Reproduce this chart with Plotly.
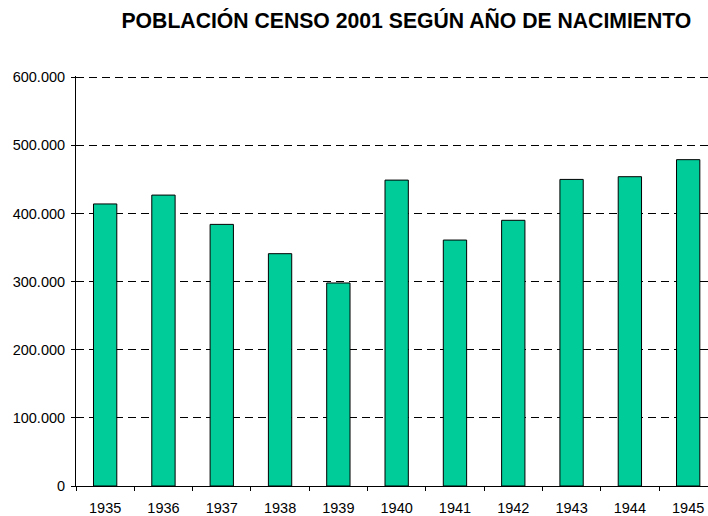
import plotly.graph_objects as go

years = ["1935", "1936", "1937", "1938", "1939", "1940", "1941", "1942", "1943", "1944", "1945"]
population = [414000, 427000, 384000, 341000, 298000, 449000, 361000, 390000, 450000, 454000, 479000]
y_ticks = [0, 100000, 200000, 300000, 400000, 500000, 600000]

fig = go.Figure()
fig.add_trace(go.Bar(
    x=years, y=population, width=0.4,
    marker=dict(color="#00CC99", line=dict(color="black", width=1)),
))

fig.update_layout(
    width=708, height=516,
    margin=dict(l=76, r=0, t=76, b=30),
    paper_bgcolor="white", plot_bgcolor="white",
    separators=",.",
    font=dict(family="Liberation Sans, Arial, sans-serif", color="black", size=14.5),
    title=dict(text="<b>POBLACIÓN CENSO 2001 SEGÚN AÑO DE NACIMIENTO</b>",
               x=0.574, xanchor="center", y=0.960, yanchor="middle",
               font=dict(size=21.2, family="Liberation Sans, Arial, sans-serif", color="black")),
    showlegend=False,
)
fig.update_xaxes(
    type="category", range=[-0.5, 10.34],
    showline=True, linecolor="black", linewidth=1,
    ticks="outside", ticklen=4, tickcolor="black", tickson="boundaries",
    showgrid=False, tickfont=dict(size=14.5), ticklabelstandoff=9,
)
fig.update_yaxes(
    range=[0, 601800], tickvals=y_ticks, tickformat=",d",
    showline=True, linecolor="black", linewidth=1,
    ticks="outside", ticklen=4, tickcolor="black",
    showgrid=True, gridcolor="black", gridwidth=1, griddash="8px,5px",
    zeroline=False, tickfont=dict(size=14.5), ticklabelstandoff=3,
)
fig.write_html("out.html", config={"displayModeBar": False},
               post_script="document.body.style.margin='0';document.body.style.overflow='hidden';")
